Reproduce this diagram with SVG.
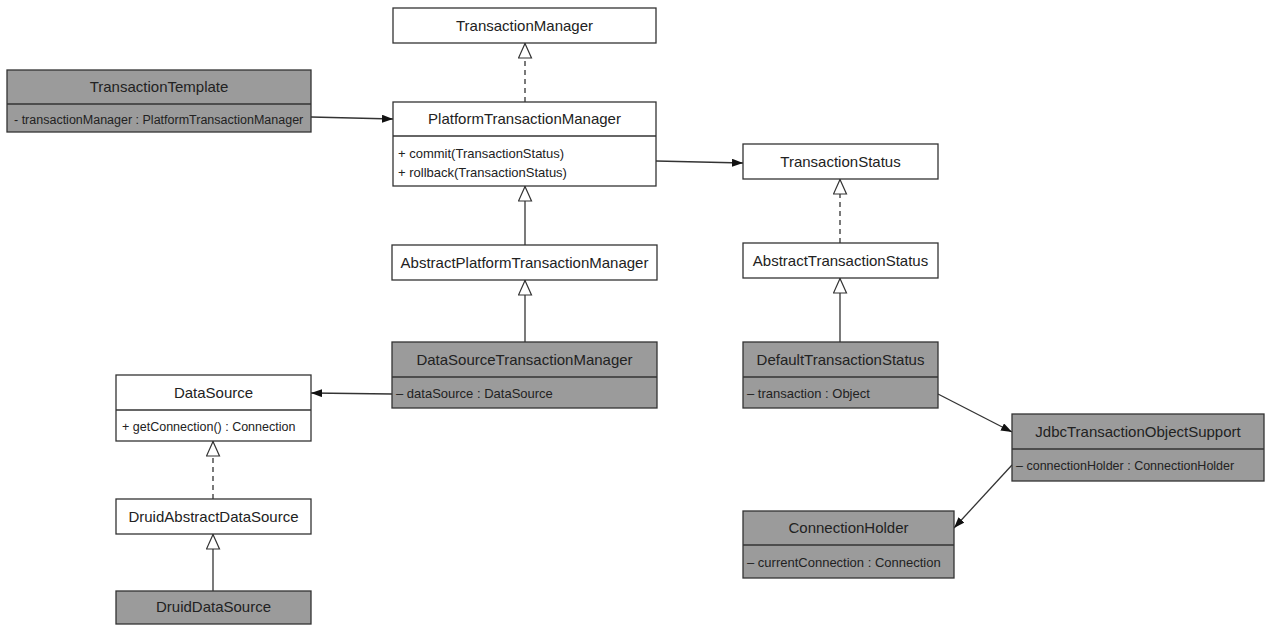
<svg xmlns="http://www.w3.org/2000/svg" width="1270" height="625" viewBox="0 0 1270 625">
<style>
.box{fill:#fff;stroke:#333;stroke-width:1.3}
.dark{fill:#9b9b9b;stroke:#333;stroke-width:1.3}
.div{stroke:#333;stroke-width:1.3}
.t{font-family:"Liberation Sans",Arial,sans-serif;font-size:15px;fill:#222;text-anchor:middle}
.m{font-family:"Liberation Sans",Arial,sans-serif;font-size:13px;fill:#222}
.c{fill:none;stroke:#333;stroke-width:1.3}
.d{stroke-dasharray:5,4}
</style>
<defs>
<marker id="tri" viewBox="0 0 16 15" refX="16" refY="7.5" markerWidth="16" markerHeight="15" markerUnits="userSpaceOnUse" orient="auto">
<path d="M1,1 L15.5,7.5 L1,14 Z" fill="#fff" stroke="#333" stroke-width="1.2" stroke-dasharray="none"/>
</marker>
<marker id="arr" viewBox="0 0 11 8" refX="11" refY="4" markerWidth="11" markerHeight="8" markerUnits="userSpaceOnUse" orient="auto">
<path d="M0,0 L11,4 L0,8 Z" fill="#111"/>
</marker>
</defs>
<g id="connectors">
<line class="c" x1="311" y1="117" x2="393" y2="119" marker-end="url(#arr)"/>
<line class="c d" x1="525" y1="102" x2="525" y2="43" marker-end="url(#tri)"/>
<line class="c" x1="525" y1="245" x2="525" y2="186" marker-end="url(#tri)"/>
<line class="c" x1="525" y1="342" x2="525" y2="280" marker-end="url(#tri)"/>
<line class="c" x1="392" y1="394" x2="311" y2="393" marker-end="url(#arr)"/>
<line class="c d" x1="213" y1="499" x2="213" y2="441" marker-end="url(#tri)"/>
<line class="c" x1="213" y1="591" x2="213" y2="534" marker-end="url(#tri)"/>
<line class="c" x1="656" y1="161" x2="743" y2="163" marker-end="url(#arr)"/>
<line class="c d" x1="840" y1="243" x2="840" y2="179" marker-end="url(#tri)"/>
<line class="c" x1="840" y1="342" x2="840" y2="278" marker-end="url(#tri)"/>
<line class="c" x1="938" y1="394" x2="1012" y2="432" marker-end="url(#arr)"/>
<line class="c" x1="1012" y1="465" x2="954" y2="528" marker-end="url(#arr)"/>
</g>
<g id="TransactionTemplate">
<rect class="dark" x="7" y="70" width="304" height="62"/>
<line class="div" x1="7" y1="104" x2="311" y2="104"/>
<text class="t" x="159" y="92">TransactionTemplate</text>
<text class="m" x="14" y="124" style="font-size:12.5px">- transactionManager : PlatformTransactionManager</text>
</g>
<g id="TransactionManager">
<rect class="box" x="393" y="8" width="263" height="35"/>
<text class="t" x="524.5" y="31">TransactionManager</text>
</g>
<g id="PlatformTransactionManager">
<rect class="box" x="393" y="102" width="263" height="84"/>
<line class="div" x1="393" y1="136" x2="656" y2="136"/>
<text class="t" x="524.5" y="124">PlatformTransactionManager</text>
<text class="m" x="398" y="158">+ commit(TransactionStatus)</text>
<text class="m" x="398" y="177">+ rollback(TransactionStatus)</text>
</g>
<g id="AbstractPlatformTransactionManager">
<rect class="box" x="392" y="245" width="265" height="35"/>
<text class="t" x="524.5" y="268">AbstractPlatformTransactionManager</text>
</g>
<g id="DataSourceTransactionManager">
<rect class="dark" x="392" y="342" width="265" height="66"/>
<line class="div" x1="392" y1="377" x2="657" y2="377"/>
<text class="t" x="524.5" y="365">DataSourceTransactionManager</text>
<text class="m" x="396" y="398">– dataSource : DataSource</text>
</g>
<g id="DataSource">
<rect class="box" x="116" y="375" width="195" height="66"/>
<line class="div" x1="116" y1="410" x2="311" y2="410"/>
<text class="t" x="213.5" y="398">DataSource</text>
<text class="m" x="122" y="431" style="font-size:12.5px">+ getConnection() : Connection</text>
</g>
<g id="DruidAbstractDataSource">
<rect class="box" x="116" y="499" width="195" height="35"/>
<text class="t" x="213.5" y="522">DruidAbstractDataSource</text>
</g>
<g id="DruidDataSource">
<rect class="dark" x="116" y="591" width="195" height="33"/>
<text class="t" x="213.5" y="612">DruidDataSource</text>
</g>
<g id="TransactionStatus">
<rect class="box" x="743" y="144" width="195" height="35"/>
<text class="t" x="840.5" y="167">TransactionStatus</text>
</g>
<g id="AbstractTransactionStatus">
<rect class="box" x="743" y="243" width="195" height="35"/>
<text class="t" x="840.5" y="266">AbstractTransactionStatus</text>
</g>
<g id="DefaultTransactionStatus">
<rect class="dark" x="743" y="342" width="195" height="66"/>
<line class="div" x1="743" y1="377" x2="938" y2="377"/>
<text class="t" x="840.5" y="365">DefaultTransactionStatus</text>
<text class="m" x="747" y="398">– transaction : Object</text>
</g>
<g id="JdbcTransactionObjectSupport">
<rect class="dark" x="1012" y="414" width="252" height="67"/>
<line class="div" x1="1012" y1="449" x2="1264" y2="449"/>
<text class="t" x="1138" y="437">JdbcTransactionObjectSupport</text>
<text class="m" x="1016" y="470" style="font-size:12.5px">– connectionHolder : ConnectionHolder</text>
</g>
<g id="ConnectionHolder">
<rect class="dark" x="743" y="511" width="211" height="67"/>
<line class="div" x1="743" y1="545" x2="954" y2="545"/>
<text class="t" x="848.5" y="533">ConnectionHolder</text>
<text class="m" x="747" y="567">– currentConnection : Connection</text>
</g>
</svg>
